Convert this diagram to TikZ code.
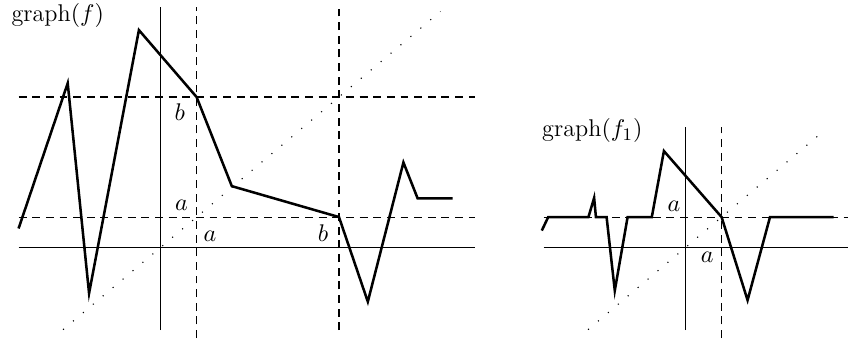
\documentclass[tikz,border=0pt]{standalone}
\begin{document}
\begin{tikzpicture}[x=16.18pt,y=13.64pt,
  axis/.style={line width=0.45pt},
  guide/.style={line width=0.5pt,dash pattern=on 3.6pt off 2.6pt},
  diag/.style={line width=0.5pt,dash pattern=on 0.5pt off 5.4pt},
  curve/.style={line width=1.15pt,line join=miter},
  lbl/.style={inner sep=0pt,anchor=base,font=\fontsize{11}{13}\selectfont}]
\useasboundingbox (-4.522,-3.033) rectangle (19.326,8.233);
% ---------- left graph ----------
\begin{scope}
  \draw[axis] (-4,0) -- (8.82,0);
  \draw[axis] (0,-2.77) -- (0,8);
  \draw[guide] (1,-3.03) -- (1,8);
  \draw[guide] (5,-2.77) -- (5,8);
  \draw[guide] (-4,5) -- (8.82,5);
  \draw[guide] (-4,1) -- (8.82,1);
  \draw[diag] (-2.75,-2.75) -- (7.85,7.85);
  \draw[curve] (-4,0.62) -- (-2.62,5.46) -- (-2.02,-1.54) -- (-0.62,7.23)
    -- (1,5) -- (1.99,2.03) -- (5,1) -- (5.81,-1.82) -- (6.81,2.82)
    -- (7.21,1.62) -- (8.19,1.62);
  \node[lbl,anchor=base west] (gf) at (-4.21,7.53) {graph$(f)$};
  \node[lbl] (bl) at (0.53,4.23) {$b$};
  \node[lbl] (al) at (0.576,1.21) {$a$};
  \node[lbl] (ar) at (1.376,0.18) {$a$};
  \node[lbl] (br) at (4.55,0.2) {$b$};
\end{scope}
% ---------- right graph ----------
\begin{scope}[shift={(14.747,0)}]
  \draw[axis] (-4,0) -- (4.55,0);
  \draw[axis] (0,-2.77) -- (0,4);
  \draw[guide] (1,-3.03) -- (1,4);
  \draw[guide] (-4,1) -- (4.55,1);
  \draw[diag] (-2.75,-2.75) -- (3.83,3.83);
  \draw[curve] (-4.05,0.55) -- (-3.87,1) -- (-2.74,1) -- (-2.58,1.64)
    -- (-2.53,1) -- (-2.23,1) -- (-2,-1.45) -- (-1.64,1) -- (-0.96,1)
    -- (-0.62,3.2) -- (1,1) -- (1.73,-1.77) -- (2.36,1) -- (4.15,1);
  \node[lbl,anchor=base west] (gf1) at (-4.05,3.67) {graph$(f_1)$};
  \node[lbl] (a1l) at (-0.337,1.18) {$a$};
  \node[lbl] (a1r) at (0.6,-0.53) {$a$};
\end{scope}
\end{tikzpicture}
\end{document}
